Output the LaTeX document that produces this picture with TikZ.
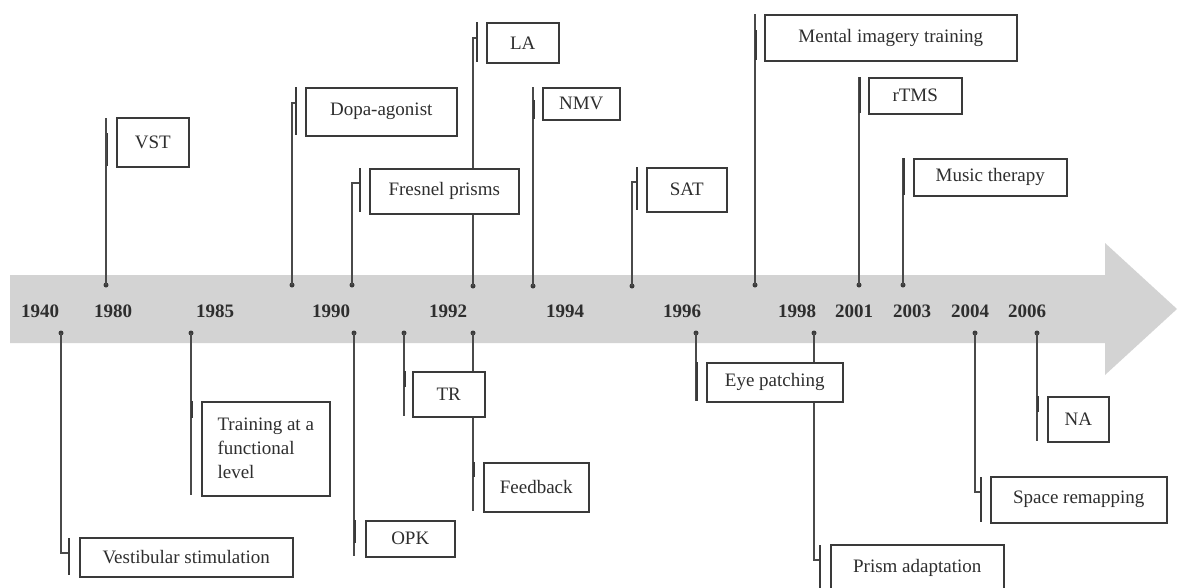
\documentclass[tikz,border=0pt]{standalone}
\usepackage{fontspec}
\setmainfont{Liberation Serif}
\definecolor{bandgray}{HTML}{D3D3D3}
\definecolor{linegray}{HTML}{4A4A4A}
\definecolor{boxgray}{HTML}{3A3A3A}
\definecolor{textgray}{HTML}{2E2E2E}
\tikzset{
  evbox/.style={draw=boxgray, line width=1.5pt, fill=white, inner sep=0pt, anchor=north west,
    text=textgray, font=\fontsize{19}{24}\selectfont, align=left},
  leadline/.style={draw=linegray, line width=1.1pt},
  accentbar/.style={draw=boxgray, line width=1.8pt},
  evdot/.style={circle, fill=boxgray, inner sep=0pt, minimum size=5pt},
  yearlabel/.style={anchor=base, text=textgray, font=\fontsize{19}{24}\selectfont\bfseries, inner sep=0pt}
}
\newcommand\ebox[6]{\node[evbox, minimum width={(#4-#2)*1pt}, minimum height={(#5-#3)*1pt}] (#1) at (#2,#3) {#6};}
\begin{document}
\begin{tikzpicture}[x=1pt,y=-1pt]
\useasboundingbox (0,0) rectangle (1178,587);
\clip (0,0) rectangle (1178,587);
% band arrow
\fill[bandgray] (10,275) -- (1105,275) -- (1105,243) -- (1177,309) -- (1105,375) -- (1105,343) -- (10,343) -- cycle;

% dots
\foreach \n/\x/\y in {dVST/106/285, dDopa/292/285, dFres/352/285, dLA/473/286, dNMV/533/286, dSAT/632/286, dMent/755/285, dRTMS/859/285, dMus/903/285,
  dVest/61/333, dTrain/191/333, dOPK/354/333, dTR/404/333, dFeed/473/333, dEye/696/333, dPrism/814/333, dSpace/975/333, dNA/1037/333}
  \node[evdot] (\n) at (\x,\y) {};

% leader end points (accent bar attachment)
\coordinate (aVST) at (106,118);
\coordinate (aDopa) at (296,103);
\coordinate (aFres) at (360,183);
\coordinate (aLA) at (477,38);
\coordinate (aNMV) at (533,87);
\coordinate (aSAT) at (637,182);
\coordinate (aMent) at (755,14);
\coordinate (aRTMS) at (859,77);
\coordinate (aMus) at (903,158);
\coordinate (aVest) at (69,553);
\coordinate (aTrain) at (191,495);
\coordinate (aOPK) at (354,556);
\coordinate (aTR) at (404,416);
\coordinate (aFeed) at (473,511);
\coordinate (aEye) at (696,401);
\coordinate (aPrism) at (820,560);
\coordinate (aSpace) at (981,492);
\coordinate (aNA) at (1037,441);

% leaders
\foreach \n in {VST,Dopa,Fres,LA,NMV,SAT,Ment,RTMS,Mus,Vest,Train,OPK,TR,Feed,Eye,Prism,Space,NA}
  \draw[leadline] (d\n.center) |- (a\n);

% accent bars
\draw[accentbar] (107.5,133) -- (107.5,166);
\draw[accentbar] (296,87) -- (296,135);
\draw[accentbar] (360,168) -- (360,212);
\draw[accentbar] (477,22) -- (477,62);
\draw[accentbar] (534,100) -- (534,119);
\draw[accentbar] (637,167) -- (637,210);
\draw[accentbar] (756,30) -- (756,60);
\draw[accentbar] (860,77) -- (860,113);
\draw[accentbar] (904,158) -- (904,195);
\draw[accentbar] (69,538) -- (69,575);
\draw[accentbar] (192,401) -- (192,418);
\draw[accentbar] (355,520) -- (355,543);
\draw[accentbar] (405,371) -- (405,387);
\draw[accentbar] (474,462) -- (474,477);
\draw[accentbar] (697,362) -- (697,401);
\draw[accentbar] (820,545) -- (820,590);
\draw[accentbar] (981,477) -- (981,522);
\draw[accentbar] (1038,396) -- (1038,412);

% boxes
\ebox{bVST}{116}{117}{188}{166}{VST}
\ebox{bDopa}{305}{87}{456}{135}{Dopa-agonist}
\ebox{bFres}{369}{168}{518}{213}{Fresnel prisms}
\ebox{bLA}{486}{22}{558}{62}{LA}
\ebox{bNMV}{542}{87}{619}{119}{NMV}
\ebox{bSAT}{646}{167}{726}{211}{SAT}
\ebox{bMent}{764}{14}{1016}{60}{Mental imagery training}
\ebox{bRTMS}{868}{77}{961}{113}{rTMS}
\ebox{bMus}{913}{158}{1066}{195}{Music therapy}
\ebox{bVest}{79}{537}{292}{576}{Vestibular stimulation}
\ebox{bTrain}{201}{401}{329}{495}{Training at a\\functional\\level}
\ebox{bOPK}{365}{520}{454}{556}{OPK}
\ebox{bTR}{412}{371}{484}{416}{TR}
\ebox{bFeed}{483}{462}{588}{511}{Feedback}
\ebox{bEye}{706}{362}{842}{401}{Eye patching}
\ebox{bPrism}{830}{544}{1003}{590}{Prism adaptation}
\ebox{bSpace}{990}{476}{1166}{522}{Space remapping}
\ebox{bNA}{1047}{396}{1108}{441}{NA}

% years
\foreach \yr/\x in {1940/40, 1980/113, 1985/215, 1990/331, 1992/448, 1994/565, 1996/682, 1998/797, 2001/854, 2003/912, 2004/970, 2006/1027}
  \node[yearlabel] (y\yr) at (\x,317) {\yr};
\end{tikzpicture}
\end{document}
